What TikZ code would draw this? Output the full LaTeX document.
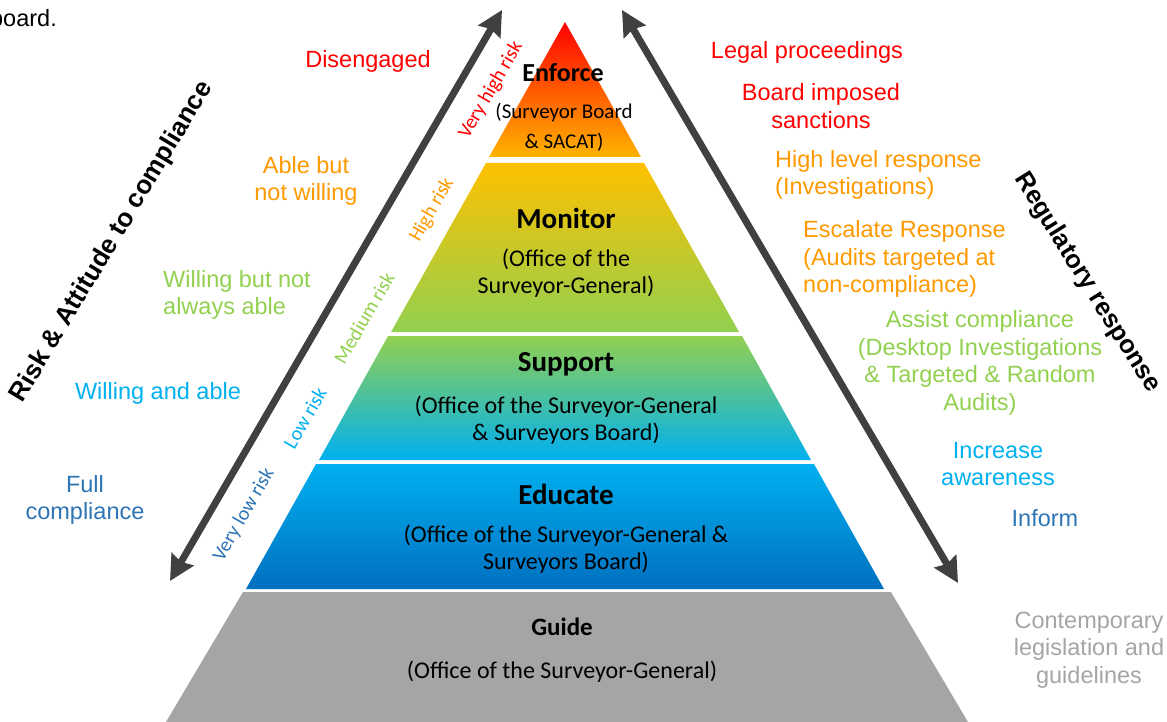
\documentclass[tikz,border=0pt]{standalone}
\usepackage{fontspec}
\setmainfont{Liberation Sans}
\newfontfamily\calib{Carlito}
\usepackage{tkz-euclide}
\usetikzlibrary{arrows.meta}
\definecolor{cred}{HTML}{FF0000}
\definecolor{corange}{HTML}{FF9900}
\definecolor{cgreen}{HTML}{92D050}
\definecolor{clblue}{HTML}{00B0F0}
\definecolor{cblue}{HTML}{2E75B6}
\definecolor{cdblue}{HTML}{0070C0}
\definecolor{cgold}{HTML}{FFC000}
\definecolor{cgrey}{HTML}{A5A5A5}
\definecolor{carrow}{HTML}{404040}

\begin{document}
\begin{tikzpicture}[x=1pt,y=-1pt,
lbl/.style={inner sep=0pt,align=center,font=\fontsize{23.5}{27.5}\selectfont},
risk/.style={inner sep=0pt,rotate=60,font=\calib\fontsize{20}{22}\selectfont},
tier/.style={inner sep=0pt,align=center,font=\calib\fontsize{24}{27.5}\selectfont},
ttl/.style={inner sep=0pt,font=\calib\bfseries\fontsize{29}{32}\selectfont},
dbl/.style={<->,>={Stealth[length=25pt,width=25pt,inset=3pt]},line width=7pt,color=carrow}]
\useasboundingbox (0,0) rectangle (1167,722);
\tkzDefPoints{565/22/A,489/157/E1,641/157/E2,486/163/M1,644/163/M2,739/332/M3,391/332/M4,
388/336/S1,742/336/S2,811/460/S3,319/460/S4,316/464/D1,814/464/D2,884/589/D3,246/589/D4,
243/592/G1,891/592/G2,968/722/G3,166/722/G4,170/581/P1,502/10/P2,622/10/Q1,958/583/Q2}
\shade[top color=cred,middle color=orange!90!red,bottom color=cgold!80!orange](A)--(E2)--(E1)--cycle;
\shade[top color=cgold,bottom color=cgreen](M1)--(M2)--(M3)--(M4)--cycle;
\shade[top color=cgreen,middle color=clblue,bottom color=clblue](S1)--(S2)--(S3)--(S4)--cycle;
\shade[top color=clblue,middle color=cdblue,bottom color=cdblue](D1)--(D2)--(D3)--(D4)--cycle;
\fill[cgrey](G1)--(G2)--(G3)--(G4)--cycle;
\draw[dbl](P1)--(P2);\draw[dbl](Q1)--(Q2);
\node[ttl,font=\calib\bfseries\fontsize{26}{30}\selectfont] (enf) at (563,73) {Enforce};
\node[tier,font=\calib\fontsize{21}{30}\selectfont] (enfo) at (564,127) {(Surveyor Board\\\& SACAT)};
\node[ttl] (mon) at (566,218) {Monitor};
\node[tier] (mono) at (566,273) {(Office of the\\Surveyor-General)};
\node[ttl] (sup) at (566,364) {Support};
\node[tier] (supo) at (566,420) {(Office of the Surveyor-General\\\& Surveyors Board)};
\node[ttl] (edu) at (566,494) {Educate};
\node[tier] (eduo) at (566,549) {(Office of the Surveyor-General \&\\Surveyors Board)};
\node[ttl,font=\calib\bfseries\fontsize{25}{30}\selectfont] (gui) at (562,627) {Guide};
\node[tier] (guio) at (562,672) {(Office of the Surveyor-General)};
\node[risk,cred] (r1) at (491,90) {Very high risk};
\node[risk,corange] (r2) at (432,210) {High risk};
\node[risk,cgreen] (r3) at (364,318) {Medium risk};
\node[risk,clblue] (r4) at (305,418) {Low risk};
\node[risk,cblue] (r5) at (244,515) {Very low risk};
\node[lbl,anchor=east] (bd) at (57,18) {board.};
\node[lbl,cred] (l1) at (368,61) {Disengaged};
\node[lbl,corange] (l2) at (306,181) {Able but\\not willing};
\node[lbl,cgreen,align=left] (l3) at (237,295) {Willing but not\\always able};
\node[lbl,clblue] (l4) at (158,393) {Willing and able};
\node[lbl,cblue] (l5) at (85,500) {Full\\compliance};
\node[lbl,font=\bfseries\fontsize{26}{30}\selectfont,rotate=59] (lt) at (112,242) {Risk \& Attitude to compliance};
\node[lbl,cred] (q1) at (807,52) {Legal proceedings};
\node[lbl,cred] (q2) at (821,106) {Board imposed\\sanctions};
\node[lbl,corange,align=left,anchor=west] (q3) at (775,175) {High level response\\(Investigations)};
\node[lbl,corange,align=left,anchor=west] (q4) at (803,259) {Escalate Response\\(Audits targeted at\\non-compliance)};
\node[lbl,cgreen] (q5) at (980,363) {Assist compliance\\(Desktop Investigations\\\& Targeted \& Random\\Audits)};
\node[lbl,clblue] (q6) at (998,464) {Increase\\awareness};
\node[lbl,cblue] (q7) at (1045,518) {Inform};
\node[lbl,cgrey] (q8) at (1089,650) {Contemporary\\legislation and\\guidelines};
\node[lbl,font=\bfseries\fontsize{25.5}{30}\selectfont,rotate=-58] (rt) at (1087,283) {Regulatory response};
\end{tikzpicture}
\end{document}
